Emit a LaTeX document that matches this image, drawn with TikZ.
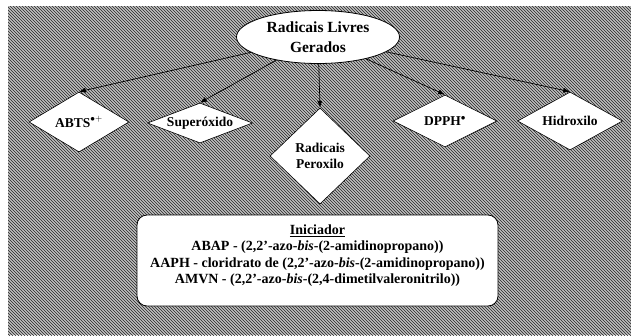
\documentclass[tikz,border=0pt]{standalone}
\usepackage{fontspec}
\setmainfont{Liberation Serif}
\usepackage{tikz}
\usetikzlibrary{positioning,arrows.meta,shapes.geometric,patterns}
\tikzset{
  flowarrow/.style={-{Latex[length=2.4mm,width=1.8mm]}, line width=0.7pt},
  rootnode/.style={draw, ellipse, line width=0.8pt, fill=white, inner sep=0pt, minimum width=163pt, minimum height=53pt, align=center, font=\fontsize{15.5}{20}\selectfont\bfseries},
  radbox/.style={draw, diamond, line width=0.6pt, fill=white, inner sep=0pt, align=center, font=\fontsize{13.5}{16}\selectfont\bfseries},
  initbox/.style={draw, rounded corners=10pt, line width=0.8pt, fill=white, minimum width=361pt, minimum height=91pt, align=center, font=\fontsize{14}{16.5}\selectfont\bfseries}
}

\begin{document}
\begin{tikzpicture}[x=1pt, y=-1pt]
  \useasboundingbox (0,0) rectangle (631,335);
  % textured background
  \fill[gray!50] (8,6) rectangle (631,335);
  \fill[pattern=north west lines, pattern color=black!85] (8,6) rectangle (631,335);

  \node[rootnode] (top) at (318,37) {Radicais Livres\\Gerados};
  \node[radbox, aspect=1.67, minimum width=100pt, minimum height=60pt] (abts) at (79,122) {ABTS$^{\bullet+}$};
  \node[radbox, aspect=2.5, minimum width=105pt, minimum height=40pt] (sup) at (200,123) {Superóxido};
  \node[radbox, aspect=1.04, minimum width=100pt, minimum height=96pt] (perox) at (320,156) {Radicais\\Peroxilo};
  \node[radbox, aspect=2.0, minimum width=104pt, minimum height=52pt] (dpph) at (445,121) {DPPH$^{\bullet}$};
  \node[radbox, aspect=1.8, minimum width=105pt, minimum height=58pt] (hidr) at (570,121) {Hidroxilo};

  \node[initbox] (ini) at (317.5,260.5) {\underline{Iniciador}\\
    ABAP - (2,2'-azo-\textit{bis}-(2-amidinopropano))\\
    AAPH - cloridrato de (2,2'-azo-\textit{bis}-(2-amidinopropano))\\
    AMVN - (2,2'-azo-\textit{bis}-(2,4-dimetilvaleronitrilo))\\[-4pt]};

  \draw[flowarrow] (top) -- (abts.north);
  \draw[flowarrow] (top) -- (sup.north);
  \draw[flowarrow] (top) -- (perox.north);
  \draw[flowarrow] (top) -- (dpph.north);
  \draw[flowarrow] (top) -- (hidr.north);
\end{tikzpicture}
\end{document}
